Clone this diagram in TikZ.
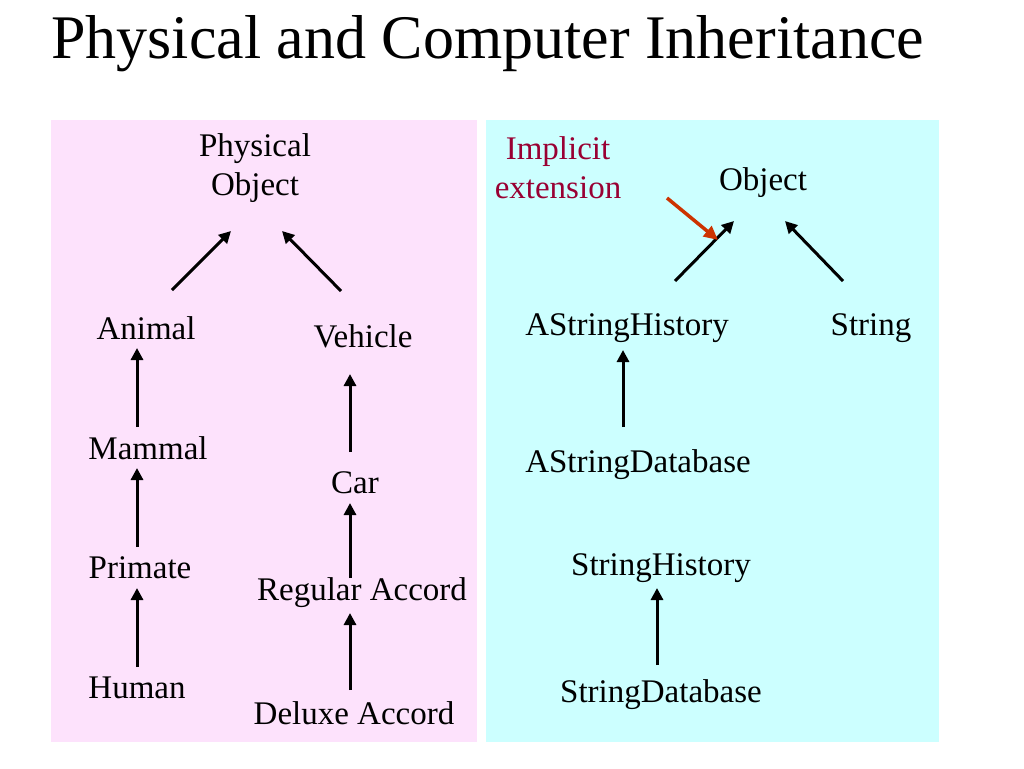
\documentclass[tikz,border=0pt]{standalone}
\usepackage{fontspec}
\setmainfont{Liberation Serif}
\usetikzlibrary{arrows.meta}
\definecolor{pinkbg}{HTML}{FDE2FC}
\definecolor{cyanbg}{HTML}{CCFFFF}
\definecolor{implicit}{HTML}{990033}
\definecolor{redarrow}{HTML}{CC3300}
\tikzset{
  lbl/.style={font=\fontsize{33}{39}\selectfont, inner sep=0pt, align=center},
  inh/.style={line width=3pt, -{Triangle[length=12pt,width=12pt]}},
  redarr/.style={line width=3.5pt, redarrow, -{Triangle[length=14pt,width=13pt]}},
}
\begin{document}
\begin{tikzpicture}[x=1pt,y=-1pt]
\useasboundingbox (0,0) rectangle (1024,768);
\fill[white] (0,0) rectangle (1024,768);
\node[anchor=west, font=\fontsize{62}{68}\selectfont, inner sep=0pt] (title) at (51,44) {Physical and Computer Inheritance};
\fill[pinkbg] (51,120) rectangle (477,742);
\fill[cyanbg] (486,120) rectangle (939,742);
% left
\node[lbl] (pobj) at (255,168) {Physical\\Object};
\node[lbl] (animal) at (146,328) {Animal};
\node[lbl] (vehicle) at (363,336) {Vehicle};
\node[lbl] (mammal) at (148,448) {Mammal};
\node[lbl] (primate) at (140,568) {Primate};
\node[lbl] (human) at (137,688) {Human};
\node[lbl] (car) at (355,483) {Car};
\node[lbl] (regular) at (362,593) {Regular Accord};
\node[lbl] (deluxe) at (354,713) {Deluxe Accord};
% right
\node[lbl, text=implicit] (impl) at (558,168) {Implicit\\extension};
\node[lbl] (obj) at (763,183) {Object};
\node[lbl] (ash) at (627,328) {AStringHistory};
\node[lbl] (string) at (871,328) {String};
\node[lbl] (asd) at (638,465) {AStringDatabase};
\node[lbl] (sh) at (661,568) {StringHistory};
\node[lbl] (sd) at (661,695) {StringDatabase};
% connector endpoints
\coordinate (a1s) at (172,290); \coordinate (a1e) at (231,231);
\coordinate (a2s) at (341,291); \coordinate (a2e) at (282,231);
\coordinate (m1s) at (137,427); \coordinate (m1e) at (137,348);
\coordinate (m2s) at (137,547); \coordinate (m2e) at (137,468);
\coordinate (m3s) at (137,667); \coordinate (m3e) at (137,588);
\coordinate (v1s) at (350,452); \coordinate (v1e) at (350,374);
\coordinate (v2s) at (350,578); \coordinate (v2e) at (350,503);
\coordinate (v3s) at (350,690); \coordinate (v3e) at (350,613);
\coordinate (o1s) at (675,281); \coordinate (o1e) at (734,221);
\coordinate (o2s) at (843,281); \coordinate (o2e) at (785,221);
\coordinate (s1s) at (623,427); \coordinate (s1e) at (623,350);
\coordinate (s2s) at (657,665); \coordinate (s2e) at (657,588);
\coordinate (rs) at (667,198); \coordinate (re) at (718,240);
\draw[inh] (a1s) -- (a1e);
\draw[inh] (a2s) -- (a2e);
\draw[inh] (m1s) -- (m1e);
\draw[inh] (m2s) -- (m2e);
\draw[inh] (m3s) -- (m3e);
\draw[inh] (v1s) -- (v1e);
\draw[inh] (v2s) -- (v2e);
\draw[inh] (v3s) -- (v3e);
\draw[inh] (o1s) -- (o1e);
\draw[inh] (o2s) -- (o2e);
\draw[inh] (s1s) -- (s1e);
\draw[inh] (s2s) -- (s2e);
\draw[redarr] (rs) -- (re);
\end{tikzpicture}
\end{document}
